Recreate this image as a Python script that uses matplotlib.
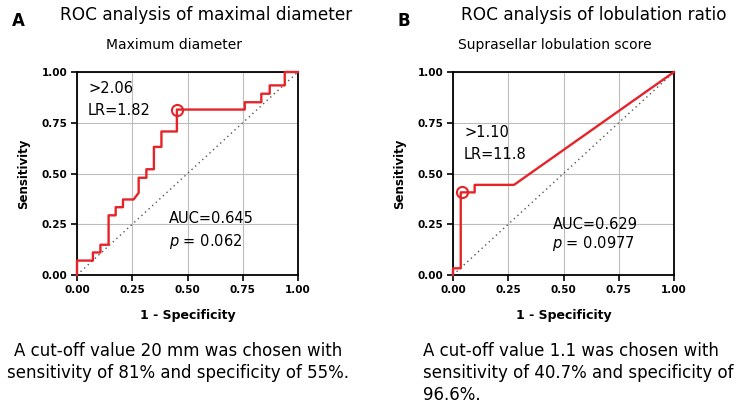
import matplotlib
matplotlib.use("Agg")
import matplotlib.pyplot as plt

W, H = 750, 405

# panel A: ROC of maximal diameter (step curve vertices)
fpr_a = [0.0, 0.0, 0.072, 0.072, 0.106, 0.106, 0.143, 0.143, 0.175, 0.175,
         0.208, 0.208, 0.256, 0.279, 0.279, 0.314, 0.314, 0.348, 0.348,
         0.382, 0.382, 0.452, 0.452, 0.759, 0.759, 0.834, 0.834, 0.872,
         0.872, 0.940, 0.940, 1.0]
tpr_a = [0.0, 0.071, 0.071, 0.111, 0.111, 0.149, 0.149, 0.294, 0.294, 0.334,
         0.334, 0.372, 0.372, 0.405, 0.479, 0.479, 0.521, 0.521, 0.631,
         0.631, 0.707, 0.707, 0.815, 0.815, 0.851, 0.851, 0.893, 0.893,
         0.934, 0.934, 1.0, 1.0]
cut_a = (0.452, 0.815)

# panel B: ROC of lobulation ratio
fpr_b = [0.0, 0.0, 0.035, 0.035, 0.098, 0.098, 0.276, 1.0]
tpr_b = [0.0, 0.033, 0.033, 0.407, 0.407, 0.444, 0.444, 1.0]
cut_b = (0.041, 0.407)

ticks = [0.0, 0.25, 0.5, 0.75, 1.0]
tick_labels = ["0.00", "0.25", "0.50", "0.75", "1.00"]

panels = [
    dict(letter="A", title="ROC analysis of maximal diameter", sub="Maximum diameter",
         fpr=fpr_a, tpr=tpr_a, cut=cut_a, thr=">2.06", lr="LR=1.82",
         thr_xy=(0.05, 0.92), lr_xy=(0.05, 0.81), auc="AUC=0.645", p="0.062",
         auc_xy=(0.416, 0.28), p_xy=(0.416, 0.163),
         caption=["A cut-off value 20 mm was chosen with",
                  "sensitivity of 81% and specificity of 55%."],
         x0=77, letter_x=12, title_x=206, sub_x=174, cap_x=178, cap_ha="center"),
    dict(letter="B", title="ROC analysis of lobulation ratio", sub="Suprasellar lobulation score",
         fpr=fpr_b, tpr=tpr_b, cut=cut_b, thr=">1.10", lr="LR=11.8",
         thr_xy=(0.05, 0.70), lr_xy=(0.05, 0.595), auc="AUC=0.629", p="0.0977",
         auc_xy=(0.45, 0.25), p_xy=(0.45, 0.153),
         caption=["A cut-off value 1.1 was chosen with",
                  "sensitivity of 40.7% and specificity of",
                  "96.6%."],
         x0=453, letter_x=398, title_x=594, sub_x=555, cap_x=423, cap_ha="left"),
]

red = "#e5242a"
fig = plt.figure(figsize=(W / 100, H / 100), dpi=100)

for p in panels:
    x0 = p["x0"]
    ax = fig.add_axes([x0 / W, (H - 275) / H, 221 / W, 203 / H])
    ax.set_xlim(0, 1)
    ax.set_ylim(0, 1)
    ax.set_xticks(ticks)
    ax.set_yticks(ticks)
    ax.set_xticklabels(tick_labels, fontsize=7.5, fontweight="bold")
    ax.set_yticklabels(tick_labels, fontsize=7.5, fontweight="bold")
    ax.tick_params(direction="out", length=4, width=1.2, pad=3)
    ax.grid(True, color="#bdbdbd", linewidth=0.8)
    for s in ax.spines.values():
        s.set_linewidth(1.3)
    ax.plot([0, 1], [0, 1], color="#555555", linestyle=(0, (1, 2.5)), linewidth=1.0)
    ax.plot(p["fpr"], p["tpr"], color=red, linewidth=1.7, clip_on=False, zorder=3)
    ax.plot(*p["cut"], marker="o", markersize=8, markerfacecolor="none",
            markeredgecolor=red, markeredgewidth=1.5, zorder=4)
    ax.set_xlabel("1 - Specificity", fontsize=9, fontweight="bold", labelpad=10)
    ax.set_ylabel("Sensitivity", fontsize=8.5, fontweight="bold", labelpad=8)

    ax.text(*p["thr_xy"], p["thr"], fontsize=10.5, ha="left", va="center")
    ax.text(*p["lr_xy"], p["lr"], fontsize=10.5, ha="left", va="center")
    ax.text(*p["auc_xy"], p["auc"], fontsize=10.5, ha="left", va="center")
    ax.text(*p["p_xy"], r"$\it{p}$ = " + p["p"], fontsize=10.5, ha="left", va="center")

    # panel letter, title, subtitle
    fig.text(p["letter_x"] / W, 1 - 21 / H, p["letter"], fontsize=12, fontweight="bold",
             ha="left", va="center")
    fig.text(p["title_x"] / W, 1 - 15 / H, p["title"], fontsize=12.2, ha="center", va="center")
    fig.text(p["sub_x"] / W, 1 - 45 / H, p["sub"], fontsize=10, ha="center", va="center")

    for i, line in enumerate(p["caption"]):
        fig.text(p["cap_x"] / W, 1 - (351 + 22 * i) / H, line, fontsize=12,
                 ha=p["cap_ha"], va="center")

fig.savefig("out.png", dpi=100)
